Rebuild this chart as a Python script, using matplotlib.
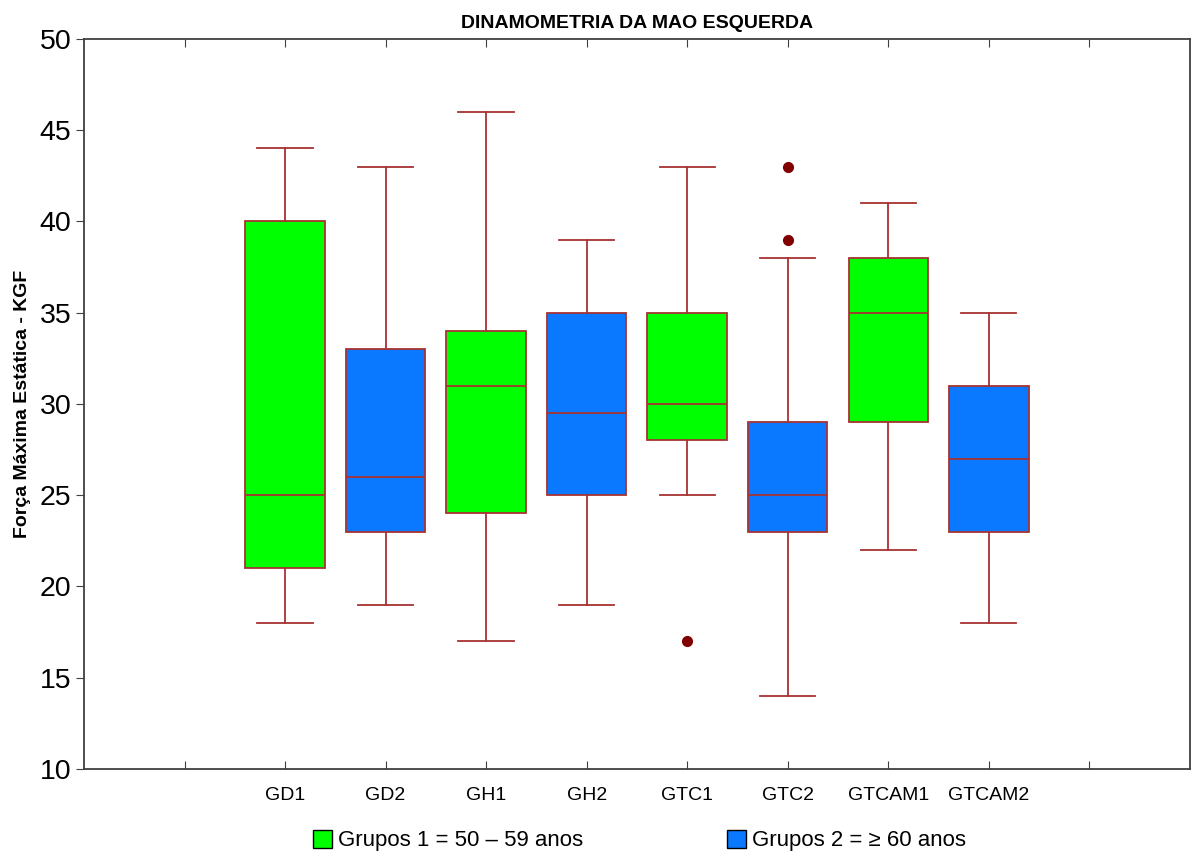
import matplotlib.pyplot as plt
from matplotlib.patches import Patch

plt.rcParams['font.family'] = ['Liberation Sans', 'DejaVu Sans']

# Box plot summary values
groups = ['GD1', 'GD2', 'GH1', 'GH2', 'GTC1', 'GTC2', 'GTCAM1', 'GTCAM2']
whisker_low = [18, 19, 17, 19, 25, 14, 22, 18]
q1 = [21, 23, 24, 25, 28, 23, 29, 23]
medians = [25, 26, 31, 29.5, 30, 25, 35, 27]
q3 = [40, 33, 34, 35, 35, 29, 38, 31]
whisker_high = [44, 43, 46, 39, 43, 38, 41, 35]
outliers = [[], [], [], [], [17], [43, 39], [], []]
box_colors = ['#00FF00', '#0A78FF'] * 4

edge = '#A83232'

stats = []
for i, g in enumerate(groups):
    stats.append(dict(label=g, whislo=whisker_low[i], q1=q1[i], med=medians[i],
                      q3=q3[i], whishi=whisker_high[i], fliers=outliers[i]))

fig = plt.figure(figsize=(11.93, 8.57), dpi=100)
ax = fig.add_axes([0.0704, 0.1027, 0.927, 0.852])

positions = list(range(2, 2 + len(groups)))
bp = ax.bxp(stats, positions=positions, widths=0.79, patch_artist=True,
            boxprops=dict(edgecolor=edge, linewidth=1.3),
            medianprops=dict(color=edge, linewidth=1.3),
            whiskerprops=dict(color=edge, linewidth=1.3),
            capprops=dict(color=edge, linewidth=1.3),
            flierprops=dict(marker='o', markerfacecolor='#800000',
                            markeredgecolor='#800000', markersize=7))
for patch, c in zip(bp['boxes'], box_colors):
    patch.set_facecolor(c)
for cap in bp['caps']:
    x0, x1 = cap.get_xdata()
    mid = (x0 + x1) / 2
    cap.set_xdata([mid - 0.275, mid + 0.275])

ax.set_xlim(0, 11)
ax.set_ylim(10, 50)
ax.set_xticks(range(1, 11))
ax.set_xticklabels([''] + groups + [''], fontsize=14)
ax.set_yticks(range(10, 51, 5))
ax.tick_params(axis='y', labelsize=20.5, direction='out', length=6, pad=3,
               color='#404040')
ax.tick_params(axis='x', direction='in', length=6, top=True, pad=13,
               color='#404040')
for s in ax.spines.values():
    s.set_color('#404040')
    s.set_linewidth(1.3)

ax.set_title('DINAMOMETRIA DA MAO ESQUERDA', fontsize=14, fontweight='bold',
             pad=8)
ax.set_ylabel('Força Máxima Estática - KGF', fontsize=14, fontweight='bold',
              labelpad=6)

handles = [Patch(facecolor='#00FF00', edgecolor='black', label='Grupos 1 = 50 – 59 anos'),
           Patch(facecolor='#0A78FF', edgecolor='black', label='Grupos 2 = ≥ 60 anos')]
fig.legend(handles=handles, loc='center', bbox_to_anchor=(0.536, 0.019), ncol=2,
           frameon=False, fontsize=16, handlelength=0.85, handleheight=0.85,
           handletextpad=0.25, columnspacing=6.5)

fig.savefig('out.png', dpi=100)
